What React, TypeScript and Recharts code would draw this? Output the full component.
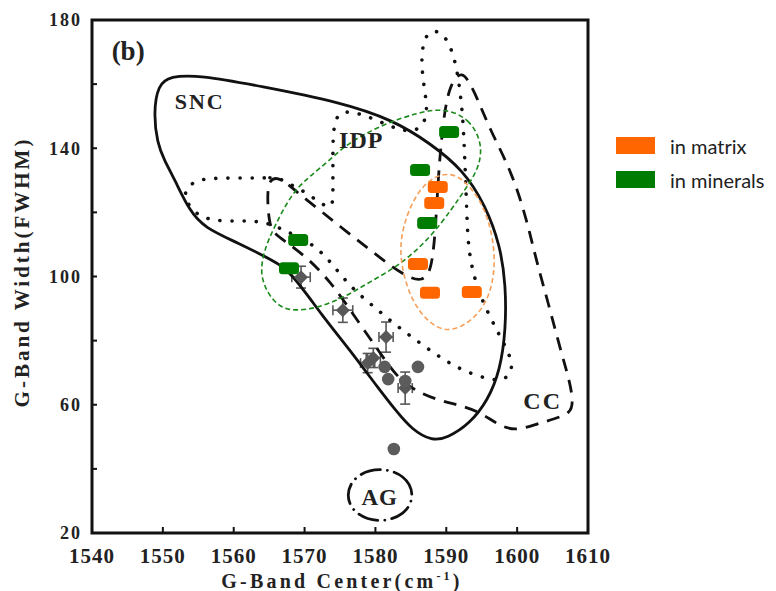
import { ScatterChart, Scatter, XAxis, YAxis, ErrorBar, ReferenceArea } from 'recharts';

const SERIF = '"Liberation Serif", "Times New Roman", serif';

const xTicks = [1540, 1550, 1560, 1570, 1580, 1590, 1600, 1610];
const yTicks = [20, 40, 60, 80, 100, 120, 140, 160, 180];
const yLabelled = [20, 60, 100, 140, 180];

// region outlines, [center, width] pairs
const sncOutline = [
  [1549.3, 159.7], [1551.0, 162.5], [1555.2, 162.8], [1563.7, 159.4], [1575.0, 154.4],
  [1582.5, 148.8], [1587.7, 141.6], [1592.4, 133.2], [1595.5, 122.3], [1597.6, 109.8],
  [1598.4, 97.4], [1598.4, 83.3], [1597.6, 70.8], [1595.9, 61.5], [1593.3, 54.0],
  [1590.1, 49.6], [1588.0, 48.7], [1585.2, 52.1], [1582.8, 58.4], [1580.6, 64.6],
  [1576.4, 77.1], [1572.6, 87.4], [1567.9, 102.0], [1565.4, 105.1], [1560.7, 110.4],
  [1555.9, 115.1], [1553.7, 120.7], [1551.7, 130.1], [1550.2, 136.3], [1549.2, 141.6],
  [1548.7, 151.0],
];

const idpOutline = [
  [1566.2, 131.0], [1564.7, 130.7], [1560.9, 130.7], [1556.6, 130.7], [1554.5, 129.8],
  [1553.0, 127.0], [1553.3, 122.9], [1555.0, 118.9], [1557.4, 117.3], [1560.9, 117.3],
  [1564.4, 117.3], [1567.9, 113.6], [1571.5, 109.8], [1574.0, 103.6], [1576.5, 96.7],
  [1579.5, 91.1], [1582.5, 85.5], [1585.7, 80.2], [1589.0, 74.9], [1592.4, 70.5],
  [1596.2, 67.7], [1598.3, 67.7], [1599.4, 70.8], [1599.0, 75.5], [1597.4, 82.1],
  [1595.6, 89.9], [1594.1, 98.0], [1593.1, 108.3], [1592.9, 119.8], [1592.6, 137.3],
  [1592.4, 147.2], [1592.1, 155.0], [1591.6, 163.5], [1590.9, 170.0], [1589.8, 175.3],
  [1588.1, 177.2], [1586.8, 174.4], [1586.4, 166.6], [1587.0, 157.5], [1587.4, 150.4],
  [1586.3, 145.7], [1584.2, 145.1], [1581.3, 147.6], [1577.8, 151.0], [1574.7, 151.9],
  [1574.0, 145.7], [1574.0, 136.3], [1574.0, 127.0], [1574.0, 120.7], [1572.2, 122.9],
  [1570.1, 126.4], [1567.9, 128.8],
];

const ccOutline = [
  [1566.2, 131.0], [1567.7, 128.8], [1569.4, 125.4], [1572.5, 120.1], [1575.8, 114.2],
  [1579.1, 108.6], [1582.3, 103.0], [1584.9, 99.5], [1586.6, 98.6], [1587.7, 101.4],
  [1588.1, 106.7], [1588.4, 112.9], [1588.7, 123.9], [1589.0, 134.8], [1589.4, 144.1],
  [1589.8, 151.9], [1590.4, 158.2], [1591.2, 161.9], [1592.2, 163.5], [1593.1, 161.3],
  [1594.3, 156.0], [1596.2, 145.7], [1598.6, 135.4], [1600.4, 124.8], [1601.8, 113.6],
  [1602.8, 104.2], [1604.4, 91.7], [1606.0, 78.0], [1607.5, 66.8], [1607.9, 60.5],
  [1607.5, 57.4], [1605.3, 55.6], [1602.8, 54.0], [1599.7, 51.8], [1597.3, 53.7],
  [1594.8, 57.7], [1591.9, 59.9], [1589.1, 61.2], [1585.3, 64.6], [1582.8, 69.3],
  [1580.6, 76.4], [1578.2, 83.9], [1575.7, 92.0], [1573.6, 98.3], [1570.8, 105.1],
  [1567.2, 111.1], [1565.4, 113.9], [1565.0, 117.6], [1564.8, 122.3], [1564.8, 127.0],
  [1565.1, 130.1],
];

const agOutline = [
  [1580.6, 40.6], [1584.2, 38.1], [1585.6, 31.8], [1584.2, 25.6],
  [1580.6, 23.1], [1577.1, 25.6], [1575.7, 31.8], [1577.1, 38.1],
];

const mineralsEllipse = [
  [1589.5, 152.6], [1593.3, 149.4], [1595.2, 141.0], [1594.5, 133.2], [1592.6, 127.0],
  [1590.9, 121.4], [1587.7, 112.0], [1583.5, 103.6], [1579.2, 98.3], [1575.7, 93.6],
  [1571.9, 90.2], [1568.6, 89.2], [1566.4, 90.5], [1564.7, 94.9], [1563.7, 101.1],
  [1564.3, 108.3], [1565.7, 115.4], [1568.2, 126.0], [1570.6, 131.0], [1572.2, 133.8],
  [1574.3, 137.9], [1576.8, 142.6], [1581.6, 147.9], [1585.9, 151.0],
];

const matrixEllipse = [
  [1590.1, 132.9], [1592.6, 130.1], [1594.8, 123.9], [1596.2, 116.1], [1596.9, 106.7],
  [1596.6, 98.0], [1595.5, 91.1], [1593.3, 85.5], [1590.1, 82.4], [1587.3, 85.8],
  [1584.9, 93.3], [1583.6, 103.6], [1583.5, 111.4], [1584.5, 120.1], [1586.7, 129.2],
];

// measured points: [center, width, xErr, yErr]
const diamondPoints = [
  [1569.5, 99.8, 1.3, 3.4],
  [1575.4, 89.5, 1.4, 3.8],
  [1581.5, 81.1, 1.0, 4.7],
  [1579.7, 74.6, 1.0, 3.0],
  [1578.9, 73.0, 1.0, 3.0],
  [1584.2, 65.2, 1.0, 5.0],
];

const circlePoints = [
  [1581.3, 71.8], [1581.8, 68.0], [1586.0, 71.8], [1584.2, 67.4], [1582.6, 46.2],
];

const matrixPoints = [
  [1588.8, 127.9], [1588.3, 122.9], [1586.0, 103.9], [1587.7, 94.9], [1593.6, 95.2],
];

const mineralPoints = [
  [1590.4, 145.1], [1586.3, 133.2], [1587.3, 116.7], [1569.1, 111.4], [1567.8, 102.6],
];

const regionLabels = [
  { x: 1545.1, y: 170.3, text: '(b)', size: 27, spacing: 0 },
  { x: 1555.2, y: 154.7, text: 'SNC', size: 22, spacing: 2 },
  { x: 1578.0, y: 142.6, text: 'IDP', size: 24, spacing: 1 },
  { x: 1603.6, y: 61.2, text: 'CC', size: 24, spacing: 2 },
  { x: 1580.6, y: 31.2, text: 'AG', size: 23, spacing: 1 },
];

const toXY = (pts: number[][]) => pts.map(([x, y]) => ({ x, y }));

const NoShape = () => <g />;

const Diamond = (p: any) => (
  <path
    d={`M${p.cx},${p.cy - 7}L${p.cx + 7},${p.cy}L${p.cx},${p.cy + 7}L${p.cx - 7},${p.cy}Z`}
    fill="#585858"
  />
);

const Dot = (p: any) => <circle cx={p.cx} cy={p.cy} r={6.3} fill="#5c5c5c" />;

const makeBlock = (color: string) => (p: any) => (
  <rect x={p.cx - 10} y={p.cy - 6} width={20} height={12} rx={3.5} fill={color} />
);

const LabelText = (p: any) => (
  <text
    x={p.cx}
    y={p.cy}
    textAnchor="middle"
    dominantBaseline="central"
    fontFamily={SERIF}
    fontWeight={700}
    fontSize={p.payload.size}
    letterSpacing={p.payload.spacing}
    fill="#222"
  >
    {p.payload.text}
  </text>
);

// bottom tick: inward tick mark at the axis plus a bold label
const XTick = (p: any) => (
  <g>
    <line x1={p.x} x2={p.x} y1={p.y - 15} y2={p.y - 21} stroke="#111" strokeWidth={2} />
    <text
      x={p.x}
      y={p.y}
      dy="0.71em"
      textAnchor="middle"
      fontFamily={SERIF}
      fontWeight={700}
      fontSize={21}
      letterSpacing={1}
      fill="#222"
    >
      {p.payload.value}
    </text>
  </g>
);

const YTick = (p: any) => (
  <g>
    <line x1={p.x + 10} x2={p.x + 15} y1={p.y} y2={p.y} stroke="#111" strokeWidth={2} />
    {yLabelled.includes(p.payload.value) && (
      <text
        x={p.x}
        y={p.y}
        dy="0.35em"
        textAnchor="end"
        fontFamily={SERIF}
        fontWeight={700}
        fontSize={18}
        letterSpacing={2}
        fill="#222"
      >
        {p.payload.value}
      </text>
    )}
  </g>
);

export default function App() {
  const outline = (pts: number[][], dash: string, width: number, color: string, cap = 'butt') => ({
    data: toXY(pts),
    line: { stroke: color, strokeWidth: width, strokeDasharray: dash, strokeLinecap: cap },
  });

  const outlines = [
    outline(sncOutline, '', 2.8, '#111'),
    outline(idpOutline, '0.1 12', 3.6, '#111', 'round'),
    outline(ccOutline, '13 9', 2.8, '#111'),
    outline(agOutline, '20 7 0.1 7', 2.8, '#111', 'round'),
    outline(mineralsEllipse, '5 3', 1.6, '#1b8a1b'),
    outline(matrixEllipse, '5 3', 1.6, '#f5a05a'),
  ];

  return (
    <div
      style={{
        position: 'absolute',
        left: 0,
        top: 0,
        width: 776,
        height: 591,
        background: '#ffffff',
        fontFamily: SERIF,
      }}
    >
      <ScatterChart width={640} height={591} margin={{ top: 20, right: 52, bottom: 0, left: 0 }}>
        <XAxis
          type="number"
          dataKey="x"
          domain={[1540, 1610]}
          allowDataOverflow
          ticks={xTicks}
          height={58}
          axisLine={false}
          tickLine={false}
          tickSize={6}
          tickMargin={9}
          tick={XTick}
        />
        <YAxis
          type="number"
          dataKey="y"
          domain={[20, 180]}
          allowDataOverflow
          ticks={yTicks}
          width={92}
          axisLine={false}
          tickLine={false}
          tickSize={4}
          tickMargin={6}
          tick={YTick}
        />
        <ReferenceArea
          x1={1540}
          x2={1610}
          y1={20}
          y2={180}
          fill="none"
          stroke="#111"
          strokeWidth={3}
        />

        {outlines.map((o, i) => (
          <Scatter
            key={i}
            data={o.data}
            fill="none"
            line={o.line}
            lineType="joint"
            lineJointType="basisClosed"
            shape={NoShape}
            legendType="none"
            isAnimationActive={false}
          />
        ))}

        <Scatter
          data={diamondPoints.map(([x, y, ex, ey]) => ({ x, y, ex, ey }))}
          shape={Diamond}
          isAnimationActive={false}
        >
          <ErrorBar dataKey="ex" direction="x" width={5} stroke="#585858" strokeWidth={1.6} />
          <ErrorBar dataKey="ey" direction="y" width={5} stroke="#585858" strokeWidth={1.6} />
        </Scatter>
        <Scatter data={toXY(circlePoints)} shape={Dot} isAnimationActive={false} />
        <Scatter data={toXY(matrixPoints)} shape={makeBlock('#ff6600')} isAnimationActive={false} />
        <Scatter data={toXY(mineralPoints)} shape={makeBlock('#007c00')} isAnimationActive={false} />
        <Scatter data={regionLabels} shape={LabelText} isAnimationActive={false} />
      </ScatterChart>

      <div
        style={{
          position: 'absolute',
          left: 342,
          top: 581,
          transform: 'translate(-50%, -50%)',
          whiteSpace: 'nowrap',
          fontSize: 20,
          fontWeight: 700,
          letterSpacing: 3.2,
          color: '#222',
        }}
      >
        G-Band Center(cm<sup style={{ fontSize: 12 }}>-1</sup>)
      </div>
      <div
        style={{
          position: 'absolute',
          left: 22,
          top: 272,
          transform: 'translate(-50%, -50%) rotate(-90deg)',
          whiteSpace: 'nowrap',
          fontSize: 21,
          fontWeight: 700,
          letterSpacing: 3,
          color: '#222',
        }}
      >
        G-Band Width(FWHM)
      </div>

      <div
        style={{
          position: 'absolute',
          left: 616,
          top: 137,
          fontFamily: 'Lato, "Open Sans", sans-serif',
          fontSize: 20,
          color: '#222',
        }}
      >
        {[
          { name: 'in matrix', color: '#ff6600' },
          { name: 'in minerals', color: '#007c00' },
        ].map((item) => (
          <div key={item.name} style={{ display: 'flex', alignItems: 'center', height: 17, marginBottom: 17 }}>
            <span style={{ width: 39, height: 17, background: item.color, marginRight: 15 }} />
            <span>{item.name}</span>
          </div>
        ))}
      </div>
    </div>
  );
}
